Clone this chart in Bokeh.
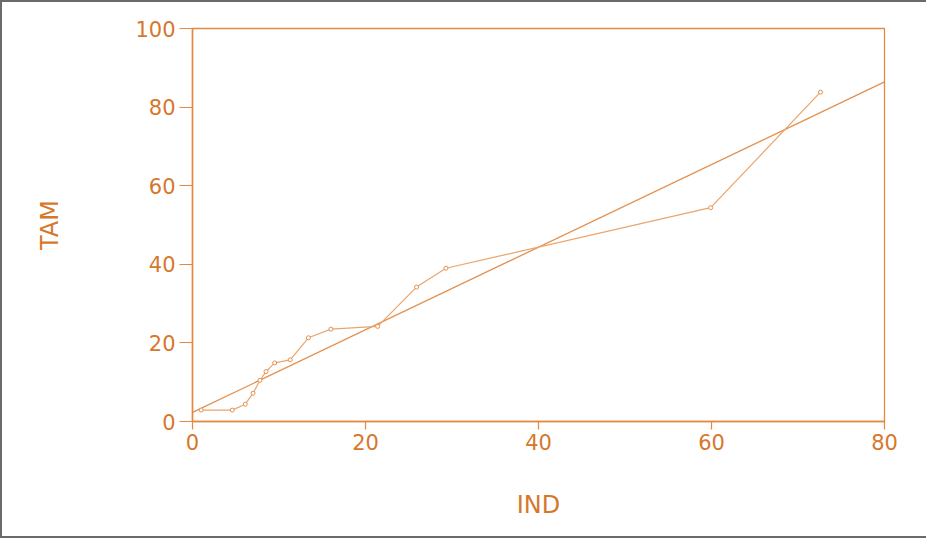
from bokeh.plotting import figure
from bokeh.models import Range1d, FixedTicker
from bokeh.embed import file_html
from bokeh.resources import INLINE

# Observed data (IND vs TAM)
ind = [1.0, 4.6, 6.1, 7.0, 7.8, 8.5, 9.5, 11.3, 13.4, 16.0, 21.4, 25.9, 29.3, 59.9, 72.6]
tam = [2.9, 2.9, 4.4, 7.2, 10.5, 12.7, 14.9, 15.7, 21.3, 23.5, 24.2, 34.2, 39.0, 54.4, 83.8]

# Fitted straight line, endpoints
fit_x = [0, 80]
fit_y = [2.3, 86.4]

x_ticks = [0, 20, 40, 60, 80]
y_ticks = [0, 20, 40, 60, 80, 100]

LABEL = "#D6782C"
AXIS = "#E28A42"
LINE = "#EBA46A"
FIT = "#E39150"

p = figure(width=926, height=538, output_backend="svg", toolbar_location=None,
           x_range=Range1d(0, 80), y_range=Range1d(0, 100),
           min_border_left=190, min_border_right=44, min_border_top=26, min_border_bottom=119)
p.styles = {"border-top": "2px solid #6a6a6a", "border-left": "2px solid #6a6a6a",
            "border-bottom": "2px solid #6a6a6a"}

p.grid.visible = False
p.outline_line_color = AXIS
p.outline_line_width = 1.3
p.background_fill_color = "white"
p.border_fill_color = "white"

p.line(fit_x, fit_y, line_color=FIT, line_width=1.3)
p.line(ind, tam, line_color=LINE, line_width=1.2)
p.scatter(ind, tam, marker="circle", size=4, fill_color="white", line_color=FIT, line_width=1)

for ax in (p.xaxis[0], p.yaxis[0]):
    ax.axis_line_color = AXIS
    ax.axis_line_width = 1.5
    ax.major_tick_line_color = AXIS
    ax.major_tick_line_width = 1.2
    ax.minor_tick_line_color = None
    ax.major_tick_in = 0
    ax.major_label_text_color = LABEL
    ax.major_label_text_font = "DejaVu Sans"
    ax.major_label_text_font_size = "21px"
    ax.axis_label_text_color = LABEL
    ax.axis_label_text_font = "DejaVu Sans"
    ax.axis_label_text_font_size = "24px"
    ax.axis_label_text_font_style = "normal"

p.xaxis.ticker = FixedTicker(ticks=x_ticks)
p.yaxis.ticker = FixedTicker(ticks=y_ticks)
p.xaxis.major_tick_out = 8
p.yaxis.major_tick_out = 13
p.xaxis.major_label_standoff = 4
p.yaxis.major_label_standoff = 4
p.xaxis.axis_label = "IND"
p.yaxis.axis_label = "TAM"
p.xaxis.axis_label_standoff = 38
p.yaxis.axis_label_standoff = 68

open("out.html", "w").write(file_html(p, INLINE))
